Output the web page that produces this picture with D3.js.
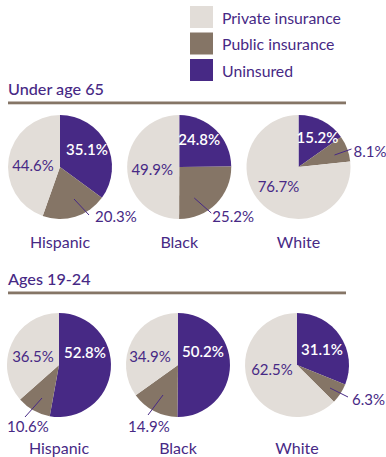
<!DOCTYPE html>
<html><head><meta charset="utf-8">
<script src="https://cdn.jsdelivr.net/npm/d3@7"></script>
<style>
body{margin:0;background:#fff;}
svg{display:block;font-family:"Lato","Open Sans",sans-serif;}
</style></head>
<body><svg id="c" width="386" height="457"></svg>
<script>
const categories = ["Uninsured","Public insurance","Private insurance"];
const legendOrder = ["Private insurance","Public insurance","Uninsured"];
const groups = ["Hispanic","Black","White"];
const panels = ["Under age 65","Ages 19-24"];
const under65 = {
  Hispanic:[35.1,20.3,44.6],
  Black:[24.8,25.2,49.9],
  White:[15.2,8.1,76.7]
};
const ages1924 = {
  Hispanic:[52.8,10.6,36.5],
  Black:[50.2,14.9,34.9],
  White:[31.1,6.3,62.5]
};
const panelData = [under65, ages1924];

const colors = {"Uninsured":"#472985","Public insurance":"#857566","Private insurance":"#e2ddd8"};
const textCol = "#472985";

// layout: label positions relative to pie centre [uninsured, public, private]; leader line for public label
const layout = [
  {
    Hispanic:{lab:[[27,-17],[35,50],[-27,-1]], anc:["middle","start","middle"], lead:[14,32,29,48]},
    Black:{lab:[[20,-27],[33,50],[-27,3]], anc:["middle","start","middle"], lead:[15,31,32,46]},
    White:{lab:[[19,-29],[55,-15],[-20,20]], anc:["middle","start","middle"], lead:[36,-12,53,-18]}
  },
  {
    Hispanic:{lab:[[26,-12],[-52,62],[-26,-8]], anc:["middle","start","middle"], lead:[-17,33,-34,52]},
    Black:{lab:[[25,-13],[-50,62],[-28,-8]], anc:["middle","start","middle"], lead:[-15,30,-30,50]},
    White:{lab:[[25,-15],[55,35],[-25,5]], anc:["middle","start","middle"], lead:[33,23,51,32]}
  }
];

const svg = d3.select("#c");
const R = 52;
const xRanges = [[60,298.5],[59,297]];
const panelTop = [80, 270];
const centerY = [167, 365];

// legend
const lg = svg.append("g");
legendOrder.forEach((k,i)=>{
  lg.append("rect").attr("x",190).attr("y",6+i*26.5).attr("width",23).attr("height",22).attr("fill",colors[k]);
  lg.append("text").attr("x",222).attr("y",23.5+i*26.5).attr("fill",textCol).attr("font-size",15.8).text(k);
});

const pie = d3.pie().sort(null).value(d=>d.v);
const arc = d3.arc().innerRadius(0).outerRadius(R);

panels.forEach((p,pi)=>{
  const top = panelTop[pi];
  const g = svg.append("g");
  g.append("text").attr("x",8).attr("y",top+15).attr("fill",textCol).attr("font-size",16.2).attr("font-weight",500).text(p);
  g.append("rect").attr("x",8).attr("y",top+21.5).attr("width",338).attr("height",2.8).attr("fill","#857566");
  const cy = centerY[pi];
  const x = d3.scalePoint().domain(groups).range(xRanges[pi]);
  groups.forEach(gr=>{
    const vals = panelData[pi][gr].map((v,i)=>({k:categories[i],v}));
    const cx = x(gr);
    const pg = g.append("g").attr("transform",`translate(${cx},${cy})`);
    pg.selectAll("path").data(pie(vals)).join("path").attr("d",arc).attr("fill",d=>colors[d.data.k]);
    const L = layout[pi][gr];
    pg.append("line").attr("x1",L.lead[0]).attr("y1",L.lead[1]).attr("x2",L.lead[2]).attr("y2",L.lead[3])
      .attr("stroke",textCol).attr("stroke-width",1);
    vals.forEach((d,i)=>{
      pg.append("text").attr("x",L.lab[i][0]).attr("y",L.lab[i][1]).attr("dy","0.36em")
        .attr("text-anchor",L.anc[i]).attr("font-size",15)
        .attr("fill", i===0 ? "#fff" : textCol).attr("font-weight", i===0?600:400)
        .text(d3.format(".1f")(d.v)+"%");
    });
    g.append("text").attr("x",cx).attr("y",cy+(pi===0?81:88.5)).attr("text-anchor","middle")
      .attr("fill",textCol).attr("font-size",16).text(gr);
  });
});
</script></body></html>
